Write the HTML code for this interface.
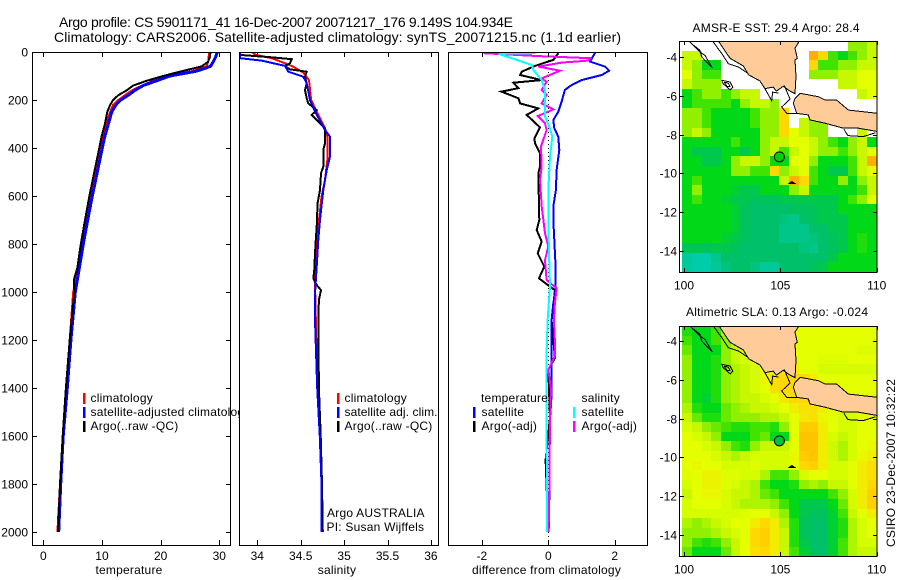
<!DOCTYPE html>
<html lang="en">
<head>
<meta charset="utf-8">
<title>Argo profile CS 5901171_41</title>
<style>
html,body{margin:0;padding:0;background:#fff;}
#figure{display:block;width:900px;height:580px;background:#fff;}
text{font-family:"Liberation Sans",Arial,sans-serif;font-size:12px;fill:#000;}
</style>
</head>
<body>
<svg id="figure" xmlns="http://www.w3.org/2000/svg" width="900" height="580" viewBox="0 0 900 580">
<defs>
<clipPath id="clip-temp"><rect x="32" y="52" width="199" height="493"/></clipPath>
<clipPath id="clip-sal"><rect x="239" y="52" width="200" height="493"/></clipPath>
<clipPath id="clip-diff"><rect x="448" y="52" width="200" height="493"/></clipPath>
<clipPath id="clip-map1"><rect x="680" y="41" width="197" height="231"/></clipPath>
<clipPath id="clip-map2"><rect x="680" y="326" width="197" height="230"/></clipPath>
</defs>
<text x="59" y="27" font-size="14" style="font-size:14px" textLength="454">Argo profile: CS 5901171_41 16-Dec-2007 20071217_176 9.149S 104.934E</text>
<text x="54" y="42" style="font-size:14px" textLength="567">Climatology: CARS2006. Satellite-adjusted climatology: synTS_20071215.nc (1.1d earlier)</text>
<g id="plots"></g>
<text transform="translate(895,547) rotate(-90)" textLength="168">CSIRO 23-Dec-2007 10:32:22</text>
</svg>
<script>
// ---------- axis tick labels ----------
const depthTicks = [0,200,400,600,800,1000,1200,1400,1600,1800,2000];
const tempTicks = [0,10,20,30];
const salTicks = [34,34.5,35,35.5,36];
const diffTicks = [-2,0,2];
const lonTicks = [100,105,110];
const latTicks = [-4,-6,-8,-10,-12,-14];

// ---------- temperature panel data ----------
const tempDepths = [0,20,40,60,80,100,120,140,160,180,200,220,250,300,350,400,500,600,700,800,900,950,1000,1200,1400,1600,1800,2000];
const tempClim = [28.3,28.2,28.1,27.8,25.3,21.0,18.7,16.8,15.1,13.9,12.8,11.9,11.4,10.7,10.2,9.72,8.93,8.1,7.3,6.65,5.97,5.57,5.1,4.5,4.0,3.3,2.85,2.4];
const tempSat = [29.66,29.4,29.0,28.5,26.1,21.6,19.3,17.0,15.6,14.5,13.2,12.4,11.65,11.1,10.5,10.06,9.2,8.36,7.57,6.82,6.14,5.8,5.45,4.7,4.09,3.4,2.96,2.62];
const tempArgo = [28.5,28.4,28.1,27.0,23.6,20.4,17.6,15.3,14.2,12.8,11.9,11.4,10.9,10.5,9.95,9.55,8.7,7.85,7.1,6.4,5.8,5.2,5.3,4.5,3.86,3.3,2.85,2.5];

// ---------- salinity panel data ----------
const salClimDepths = [0,11,26,36,58,86,117,200,262,318,353,450,533,603,728,853,964,1200,1400,1600,1800,2000];
const salClim = [33.935,33.973,34.165,34.24,34.396,34.53,34.596,34.62,34.703,34.78,34.807,34.807,34.78,34.74,34.703,34.684,34.665,34.68,34.70,34.73,34.745,34.755];
const salSatDepths = [5,26,36,58,82,103,130,200,248,325,353,436,492,575,700,783,894,1006,1117,1400,1600,1800,2000];
const salSat = [33.80,33.80,34.05,34.32,34.357,34.53,34.569,34.607,34.665,34.78,34.837,34.837,34.80,34.76,34.722,34.703,34.684,34.665,34.665,34.69,34.72,34.74,34.74];
const salArgoDepths = [12,22,30,47,58,72,82,103,130,158,193,214,242,262,290,318,380,408,478,505,575,630,728,769,839,908,943,971,992,1033,1117,1400,1600,1800,2000];
const salArgo = [33.80,34.165,34.396,34.376,34.319,34.376,34.569,34.55,34.569,34.55,34.569,34.588,34.684,34.626,34.703,34.78,34.78,34.76,34.76,34.734,34.722,34.695,34.684,34.676,34.665,34.657,34.645,34.684,34.734,34.71,34.703,34.71,34.73,34.745,34.753];

// ---------- difference panel data ----------
const diffTSatDepths = [3,40,61,78,96,117,138,158,207,249,283,318,353,408,492,575,644,700,783,894,992,1047,1117,1254,1417,1472,1525,1986];
const diffTSat = [1.41,1.26,1.71,1.83,1.61,1.0,0.70,0.50,0.40,0.30,0.15,0.18,0.30,0.33,0.25,0.23,0.15,0.15,0.18,0.22,0.22,0.15,0.10,0.10,0.10,0.08,0.05,0.02];
const diffTArgoDepths = [5,33,44,58,82,96,117,128,151,165,193,214,235,262,314,360,380,422,478,505,700,742,790,839,894,943,978,992,1061,1117,1275,1323,1525,1700,2000];
const diffTArgo = [0.30,0.15,-0.10,-0.40,-0.80,-0.85,-0.20,-1.05,-0.90,-1.41,-0.90,-0.85,-0.30,-0.65,-0.25,-0.42,-0.40,-0.25,-0.25,-0.30,-0.27,-0.35,-0.20,-0.32,-0.12,-0.28,0.05,0.20,0.15,0.10,0.20,0.0,0.05,-0.08,0.0];
const diffSSatDepths = [5,8,26,54,75,117,158,269,318,353,436,575,700,839,978,1033,1117,1254,1392,1530,1945,2000];
const diffSSat = [-0.40,-1.50,-1.10,-0.50,-0.45,-0.20,-0.10,-0.10,0.05,0.12,0.05,0.0,0.0,0.02,0.05,0.02,-0.02,-0.05,-0.05,-0.05,-0.04,-0.04];
const diffSArgoDepths = [5,17,26,36,44,61,78,110,124,158,179,214,239,267,297,325,394,478,533,644,755,811,867,950,985,1047,1117,1204,1267,1323,1406,1530,1819,2000];
const diffSArgo = [-1.95,-0.30,1.26,1.20,0.40,-0.30,0.35,-0.20,-0.05,-0.20,-0.05,-0.20,0.15,-0.32,-0.10,-0.05,-0.22,-0.20,-0.25,-0.20,-0.10,0.0,-0.10,-0.05,0.25,0.20,0.17,0.20,0.20,0.0,0.08,0.05,0.03,0.01];

// ---------- map grids: 20 columns x 24 rows (north to south), colour-scale units, null = no data ----------
const n = null;
const sstGrid = [
[n,n,n,n,n,n,n,n,n,n,n,n,n,n,n,n,n,5,5,6],
[6,6,n,n,n,n,n,n,n,n,n,n,n,9,8,4,3,4,5,6],
[6,5,3,3,n,n,n,n,n,n,n,n,n,8,4,4,5,5,6,6],
[7,5,4,4,n,n,n,n,n,n,n,n,n,5,5,5,6,6,7,7],
[6,5,5,5,n,n,n,n,n,n,n,n,n,n,n,n,6,6,7,7],
[3,4,5,5,4,5,6,6,n,n,n,n,n,n,n,n,n,n,6,7],
[3,4,4,4,4,3,5,6,6,5,n,n,n,n,n,n,n,n,n,n],
[5,5,4,3,3,3,3,4,5,5,8,n,n,n,n,n,n,n,n,n],
[5,5,4,3,3,3,3,4,5,5,8,n,6,5,5,n,n,n,n,n],
[5,6,5,3,3,3,3,3,5,5,8,7,6,5,5,n,n,n,6,n],
[3,3,3,3,3,4,3,3,5,6,6,7,7,6,5,4,3,5,6,3],
[3,2,2,2,3,3,2,3,5,6,4,6,7,6,5,5,4,5,6,7],
[3,3,2,2,3,5,6,6,5,3,3,7,7,5,3,3,3,4,6,9],
[3,3,3,3,3,5,5,4,4,8,5,6,7,4,3,2,2,4,6,7],
[3,4,3,3,3,3,3,3,3,3,6,9,8,4,3,3,5,3,5,6],
[3,5,3,3,3,2.5,2,2,3,3,3,5,6,3,3,3,3,3,4,6],
[3,4,3,3,2.5,2,2,1.5,1.5,1.5,2,2,2,2,2,2,3,4,5,7],
[3,3,3,3,3,2.5,1.5,1,1,1,1,1.5,1.5,1.5,2,2,3,3,3,3],
[3,3,3,3,3,2.5,1.5,1,1,1,0.7,0.5,1,1.5,2,2,2,3,3,3],
[3,3,3,3,3,2.5,1.5,1,1,1,0.5,0.5,0.5,1,1,2,2,3,3,3],
[3,3,3,3,2.5,2,1.5,1,1,1,0.5,0.5,0.5,0.7,1,1.5,2,3,3.5,3],
[1.5,1.5,1.5,2,2,1.5,1,1,1,1,1,1,0.7,0.5,1,1.5,2,3,3.5,3],
[0.3,0,0,0.5,1,1,1,1,1,1,1,1,1,1,1,2,3,3,3,3],
[0.2,0,0,0.3,0.7,1,1,0.7,0.3,0.3,1,1,1,1.5,2,3,3,3,3,3]
];
const slaGrid = [
[3.5,3,3,4,5.5,6,7,7,7,7,7,7,7,7,7,7,7,7,7,7],
[4,3,3,4,5,6,6.5,7,7,7,7,7,7,7,7,7,7,7,7,7],
[4.5,3,3,3,5,6,6.5,7,7,7,7,7,7,7,7,7,7,7,6.7,6.7],
[5,3,3,3.5,5,6,6.5,7,7,7,7,7,7,7,6.8,6.8,6.8,7,7,7],
[5,3,3,3.5,5,5.5,6,6.5,7,7.5,7.5,7.5,7,7,6.5,6.5,6.5,6.5,6.5,6.5],
[5,3,3,3.5,5,5.5,6,6.5,7.2,7.8,8,8,8,7.5,7,7,7,7,7,7],
[5,3,3,3.5,5,5.5,6,6.5,7,7.8,8,8,8,7.5,7,7,7,7,7,7],
[5,3,2.5,3.5,5,5.5,6,6,6.5,7,7.6,8,8,8,7.5,7,7,7,7,7],
[5.5,3.5,3,3,4.5,5,5.5,6,6,6.5,7,7.5,7.8,7.8,7.5,7,7,7,7,7],
[6,4.5,3.5,3.5,4.5,5,5,5,5.5,5.5,6,7,7.6,7.8,7.2,7,6.5,6.5,7,7],
[6.5,6,5,4.5,4,3.5,3.5,4,4,3.5,5,7,8.3,8.3,7.5,7,6.5,6.5,7,7],
[7,6.5,6,5,3,3,3,4,4.5,3,3,7,8.5,8.5,7.5,6.5,6,6.5,7,7],
[7,7,6.5,6,5,4,3.5,5,6,6,6,7,8.5,8.5,7.5,6.2,5.5,6.5,7,7.2],
[7,7,7,6.5,6,5.5,6,6.5,6.5,6.5,6.5,7.2,8.3,8.5,7.5,6.2,5.5,6.5,7.2,7.5],
[7,7.2,7,7,6.5,6.5,6.5,6.8,6.5,6.5,6.5,7,8,8.2,7.5,6.5,6.5,7,7.5,7.8],
[6.8,7,7.3,7.3,6.8,6.8,6.5,6.5,5.5,4,4,5,6.5,7,7,6.5,6.5,7,7.5,7.8],
[6.5,7,7.3,7.3,6.8,6.5,6,5.5,4,3,3,3.5,5,5.5,5,6,6,7,7.5,8],
[6,7,7.2,7.2,6.5,6,6,5.5,4.5,4,3,3,3,3,3,4,5,6.5,7.5,8.2],
[6.5,7,7,7,6.5,6,5.5,5.5,5.5,5,4,3,2,2,2,3,4.5,6.5,7.5,8.2],
[6.5,6.5,6.5,6.5,6.5,6.5,6.8,7,7,6,5,3,2,1.5,1.5,2.5,4,6,7,7.5],
[5.5,5,5.5,6,6.5,7,7,7.5,8,7.5,5.5,3.5,1.5,1,1,2.5,3.5,5.5,6.5,7],
[5,5,5,5.5,6,6.5,7,8,8.2,7.5,6,3.5,1.5,1,1,2.5,3.5,5.5,6.5,7],
[5,4,3.5,4,5,6,7,8,8.2,7.5,6,3.5,2,1,1,2.5,4,5.5,6.5,6.5],
[4.5,3,3,3,4.5,6,7,7.8,8,7.5,6,4,2.5,1.5,1,2.5,4,5.5,6,6]
];
const floatPosition = [104.95,-9.15];

// ---------- coastlines (lon, lat) ----------
const sumatraLand = [[101.75,-3.1],[102.22,-3.81],[102.39,-4.05],[103.08,-4.45],[103.34,-4.9],[103.94,-5.22],[104.2,-5.62],[104.63,-5.54],[104.8,-5.75],[105.15,-5.5],[105.5,-5.75],[105.76,-5.88],[105.81,-5.0],[105.76,-4.14],[105.88,-4.05],[105.76,-3.53],[106.02,-3.1]];
const javaLand = [[105.76,-6.12],[106.02,-5.86],[106.97,-6.04],[107.32,-6.21],[107.92,-6.21],[108.53,-6.73],[110.1,-6.9],[110.1,-7.85],[109.05,-7.67],[108.27,-7.67],[107.32,-7.41],[106.54,-7.24],[106.45,-6.98],[105.85,-6.9],[105.67,-6.38]];
const sumatraOuterCoast = [[101.44,-3.1],[101.96,-3.81],[102.3,-4.33],[102.82,-4.5],[103.34,-4.85]];
const lampungBay = [[104.2,-5.62],[104.55,-6.25],[104.6,-5.8],[104.9,-5.85]];
const sundaCoast = [[105.2,-5.45],[105.5,-6.16],[105.07,-6.57],[105.33,-6.9],[105.86,-6.9]];
const javaSouthShoal = [[108.3,-7.72],[108.5,-8.05],[109.3,-8.1],[109.95,-7.9]];
const mentawaiIsland = [[100.31,-3.21],[100.83,-3.73],[101.09,-3.9],[101.47,-4.55],[100.92,-3.98],[100.83,-3.64],[100.4,-3.3]];
const engganoIsland = [[101.96,-5.19],[102.39,-5.28],[102.53,-5.54],[102.39,-5.68],[102.04,-5.37]];
const engganoInner = [[102.1,-5.3],[102.3,-5.33],[102.38,-5.5],[102.22,-5.5]];
const christmasIsland = [[105.45,-10.53],[105.6,-10.42],[105.75,-10.53]];

// ---------- colour scale ----------
const colourStops = ['#00ccaa','#00c06a','#00c84c','#00d818','#40e400','#90f000','#c8f800','#e4ff00','#ffd800','#ffb000'];

const plots = document.getElementById('plots');
const NS = 'http://www.w3.org/2000/svg';
function mk(tag, parent, attrs, txt){
  const e = document.createElementNS(NS, tag);
  for (const k in attrs) e.setAttribute(k, attrs[k]);
  if (txt !== undefined) e.textContent = txt;
  parent.appendChild(e);
  return e;
}
function hex(c){return [1,3,5].map(i=>parseInt(c.substr(i,2),16));}
function colourOf(v){
  const t = Math.max(0, Math.min(colourStops.length-1, v));
  const i = Math.min(colourStops.length-2, Math.floor(t)), f = t-i;
  const a = hex(colourStops[i]), b = hex(colourStops[i+1]);
  return 'rgb('+a.map((x,j)=>Math.round(x+(b[j]-x)*f)).join(',')+')';
}

// ---------- profile axes ----------
const depthY = d => 52 + d*0.24;
const tempX = v => 43.3 + v*5.867;
const salX = v => 257.3 + (v-34)*86.8;
const diffX = v => 548.3 + v*33.2;

function profilePanel(name, left, right, xFn, xTicks, xTitle, titleX, clipId, yTicksLeft){
  const g = mk('g', plots, {});
  
  
  const bg = mk('rect', g, {x:left,y:52,width:right-left,height:493,fill:'#fff'});
  
  
  const lines = mk('g', g, {'clip-path':'url(#'+clipId+')'});
  
  
  g.linesGroup = lines;
  const frame = mk('rect', g, {x:left+0.5,y:52.5,width:right-left-1,height:493,fill:'none',stroke:'#000','stroke-width':1,'shape-rendering':'crispEdges'});
  
  
  xTicks.forEach(t=>{
    const x = Math.round(xFn(t))+0.5;
    const top = mk('line', g, {x1:x,x2:x,y1:52,y2:57,stroke:'#000','shape-rendering':'crispEdges'});
    
    
    const bot = mk('line', g, {x1:x,x2:x,y1:540,y2:545,stroke:'#000','shape-rendering':'crispEdges'});
    
    
    const lab = mk('text', g, {x:xFn(t),y:560,'text-anchor':'middle'}, String(t));
    
    
  });
  if (yTicksLeft){
    depthTicks.forEach(d=>{
      const y = Math.round(depthY(d))+0.5;
      const l1 = mk('line', g, {x1:left,x2:left+5,y1:y,y2:y,stroke:'#000','shape-rendering':'crispEdges'});
      
      
      const l2 = mk('line', g, {x1:right-5,x2:right,y1:y,y2:y,stroke:'#000','shape-rendering':'crispEdges'});
      
      
      const lab = mk('text', g, {x:28,y:y+4,'text-anchor':'end'}, String(d));
      
      
    });
  }
  const title = mk('text', g, {x:titleX,y:574,'text-anchor':'middle',style:'letter-spacing:.22px'}, xTitle);
  
  
  return g;
}
function profileLine(panel, name, xFn, depths, values, colour, width){
  const pts = values.map((v,i)=>xFn(v).toFixed(1)+','+depthY(depths[i]).toFixed(1)).join(' ');
  const p = mk('polyline', panel.linesGroup, {points:pts,fill:'none',stroke:colour,'stroke-width':width,'stroke-linejoin':'miter','shape-rendering':'crispEdges'});
  
  
}
function legendRow(panel, name, barX, textX, baseline, colour, label, fitWidth){
  if (colour){
    const b = mk('rect', panel, {x:barX,y:baseline-9,width:2.5,height:11,fill:colour,'shape-rendering':'crispEdges'});
    
    
  }
  const t = mk('text', panel, {x:textX,y:baseline,style:'letter-spacing:.22px'}, label);
  
  
  if (fitWidth){
    t.setAttribute('style', 'letter-spacing:0');
    t.setAttribute('textLength', fitWidth);
  }
}

const tempPanel = profilePanel('temperature', 32, 231, tempX, tempTicks, 'temperature', 129, 'clip-temp', true);
profileLine(tempPanel, 'temperature-climatology-line', tempX, tempDepths, tempClim, '#ff0000', 2);
profileLine(tempPanel, 'temperature-satellite-line', tempX, tempDepths, tempSat, '#0000ff', 3);
profileLine(tempPanel, 'temperature-argo-line', tempX, tempDepths, tempArgo, '#000000', 2);
legendRow(tempPanel, 'temperature-climatology', 83, 90.5, 402, '#ff0000', 'climatology');
legendRow(tempPanel, 'temperature-satellite', 83, 90.5, 416, '#0000ff', 'satellite-adjusted climatology');
legendRow(tempPanel, 'temperature-argo', 83, 90.5, 430, '#000000', 'Argo(..raw -QC)');

const salPanel = profilePanel('salinity', 239, 439, salX, salTicks, 'salinity', 337, 'clip-sal', false);
profileLine(salPanel, 'salinity-climatology-line', salX, salClimDepths, salClim, '#ff0000', 2);
profileLine(salPanel, 'salinity-argo-line', salX, salArgoDepths, salArgo, '#000000', 2);
profileLine(salPanel, 'salinity-satellite-line', salX, salSatDepths, salSat, '#0000ff', 2);
legendRow(salPanel, 'salinity-climatology', 337, 344.5, 402, '#ff0000', 'climatology');
legendRow(salPanel, 'salinity-satellite', 337, 344.5, 416, '#0000ff', 'satellite adj. clim.', 93);
legendRow(salPanel, 'salinity-argo', 337, 344.5, 430, '#000000', 'Argo(..raw -QC)');
legendRow(salPanel, 'float-country', 0, 327, 517, null, 'Argo AUSTRALIA');
legendRow(salPanel, 'float-pi', 0, 326.5, 531, null, 'PI: Susan Wijffels');

const diffPanel = profilePanel('difference', 448, 648, diffX, diffTicks, 'difference from climatology', 546.5, 'clip-diff', false);
const zeroLine = mk('line', diffPanel.linesGroup, {x1:548.5,x2:548.5,y1:52,y2:545,stroke:'#000','stroke-dasharray':'1 3','shape-rendering':'crispEdges'});


profileLine(diffPanel, 'diff-temperature-argo-line', diffX, diffTArgoDepths, diffTArgo, '#000000', 2);
profileLine(diffPanel, 'diff-temperature-satellite-line', diffX, diffTSatDepths, diffTSat, '#0000ff', 2);
profileLine(diffPanel, 'diff-salinity-argo-line', diffX, diffSArgoDepths, diffSArgo, '#ff00ff', 2);
profileLine(diffPanel, 'diff-salinity-satellite-line', diffX, diffSSatDepths, diffSSat, '#00ffff', 2);
legendRow(diffPanel, 'diff-temperature-heading', 0, 481, 402, null, 'temperature');
legendRow(diffPanel, 'diff-temperature-satellite', 473, 481.5, 416, '#0000ff', 'satellite');
legendRow(diffPanel, 'diff-temperature-argo', 473, 481.5, 430, '#000000', 'Argo(-adj)');
legendRow(diffPanel, 'diff-salinity-heading', 0, 581.5, 402, null, 'salinity');
legendRow(diffPanel, 'diff-salinity-satellite', 573, 581.5, 416, '#00ffff', 'satellite');
legendRow(diffPanel, 'diff-salinity-argo', 573, 581.5, 430, '#ff00ff', 'Argo(-adj)');

// ---------- maps ----------
const lonX = lon => 684 + (lon-100)*19.27;
function coast(g, name, pts, lat, closed, fill){
  const s = pts.map(p=>lonX(p[0]).toFixed(1)+','+lat(p[1]).toFixed(1)).join(' ');
  const shape = mk(closed?'polygon':'polyline', g, {points:s,fill:fill||'none',stroke:'#000','stroke-width':1,'shape-rendering':'crispEdges'});
  
  
}
function mapPanel(name, grid, top, bottom, y4, titleText, titleX, titleY, titleLen, clipId, markerFill){
  const latY = lat => y4 + (-4-lat)*19.33;
  const g = mk('g', plots, {});
  
  
  const title = mk('text', g, {x:titleX,y:titleY,textLength:titleLen}, titleText);
  
  
  const body = mk('g', g, {'clip-path':'url(#'+clipId+')'});
  
  
  const lonStep = 0.505, latStep = 0.4975, latStart = -4 + (y4-top)/19.33;
  grid.forEach((row,r)=>{
    row.forEach((v,c)=>{
      if (v === null) return;
      const x0 = Math.round(lonX(99.9+c*lonStep)), x1 = Math.round(lonX(99.9+(c+1)*lonStep));
      const y0 = Math.round(latY(latStart-r*latStep)), y1 = Math.round(latY(latStart-(r+1)*latStep));
      const cell = mk('rect', body, {x:x0,y:y0,width:x1-x0,height:y1-y0,fill:colourOf(v),'shape-rendering':'crispEdges'});
      
      
    });
  });
  coast(body, name+'-sumatra-land', sumatraLand, latY, true, '#ffcc99');
  coast(body, name+'-java-land', javaLand, latY, true, '#ffcc99');
  coast(body, name+'-sumatra-outer-coast', sumatraOuterCoast, latY, false);
  coast(body, name+'-lampung-bay', lampungBay, latY, false);
  coast(body, name+'-sunda-coast', sundaCoast, latY, false);
  coast(body, name+'-java-south-shoal', javaSouthShoal, latY, false);
  coast(body, name+'-mentawai-island', mentawaiIsland, latY, true);
  coast(body, name+'-enggano-island', engganoIsland, latY, true);
  coast(body, name+'-enggano-inner', engganoInner, latY, true);
  coast(body, name+'-christmas-island', christmasIsland, latY, true, '#000');
  const marker = mk('circle', body, {cx:lonX(floatPosition[0]),cy:latY(floatPosition[1]),r:5,fill:markerFill,stroke:'#000','stroke-width':1});
  
  
  const frame = mk('rect', g, {x:679.5,y:top+0.5,width:197.5,height:bottom-top,fill:'none',stroke:'#000','shape-rendering':'crispEdges'});
  
  
  lonTicks.forEach(t=>{
    const x = Math.round(lonX(t))+0.5;
    const a = mk('line', g, {x1:x,x2:x,y1:top,y2:top+4,stroke:'#000','shape-rendering':'crispEdges'});
    
    
    const b = mk('line', g, {x1:x,x2:x,y1:bottom-4,y2:bottom,stroke:'#000','shape-rendering':'crispEdges'});
    
    
    const lab = mk('text', g, {x:lonX(t),y:bottom+17.5,'text-anchor':'middle'}, String(t));
    
    
  });
  latTicks.forEach(t=>{
    const y = Math.round(latY(t))+0.5;
    const a = mk('line', g, {x1:680,x2:684,y1:y,y2:y,stroke:'#000','shape-rendering':'crispEdges'});
    
    
    const b = mk('line', g, {x1:873,x2:877,y1:y,y2:y,stroke:'#000','shape-rendering':'crispEdges'});
    
    
    const lab = mk('text', g, {x:677,y:y+4,'text-anchor':'end'}, String(t));
    
    
  });
}
mapPanel('sst', sstGrid, 41, 272, 57.3, 'AMSR-E SST: 29.4 Argo: 28.4', 692.5, 32, 167, 'clip-map1', '#00d000');
mapPanel('sla', slaGrid, 326, 556, 341.3, 'Altimetric SLA: 0.13 Argo: -0.024', 686, 316, 182, 'clip-map2', '#00c040');
</script>
</body>
</html>
